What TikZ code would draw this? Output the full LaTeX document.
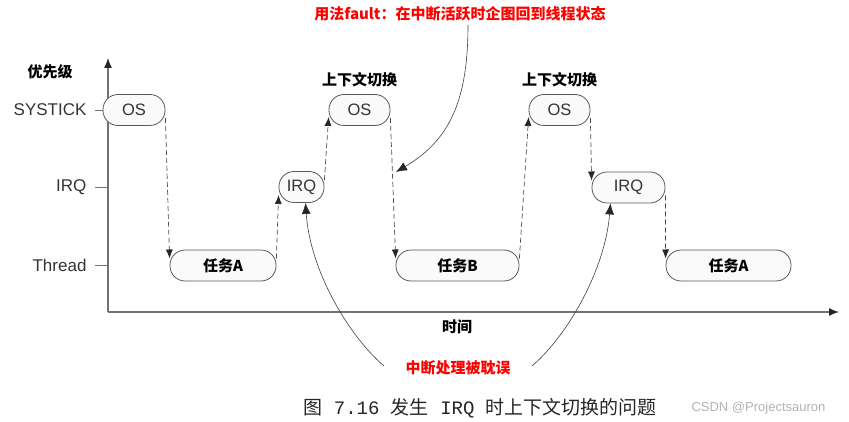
\documentclass[tikz,border=0pt]{standalone}
\usepackage{fontspec}
\setmainfont{Liberation Sans}
\newfontfamily\cjk{Noto Sans CJK SC}
\newfontfamily\mono{Liberation Mono}
\usetikzlibrary{arrows.meta}

\tikzset{
  box/.style={draw=black!65, fill=black!2, rounded corners=15pt, line width=0.8pt,
    minimum height=31pt, inner sep=0pt, text=black!80, font=\fontsize{16.5}{16.5}\selectfont},
  taskbox/.style={box, text=black, font=\cjk\bfseries\fontsize{15}{15}\selectfont},
  level/.style={text=black!80, font=\fontsize{17}{17}\selectfont},
  title/.style={text=black, font=\cjk\bfseries\fontsize{15}{15}\selectfont},
  remark/.style={text=red, font=\cjk\bfseries\fontsize{15}{15}\selectfont},
  axis/.style={draw=black!55, line width=1.3pt, -{Latex[length=10pt,width=8pt,color=black!85]}},
  tick/.style={draw=black!55, line width=0.9pt},
  switch/.style={draw=black!70, line width=0.7pt, dash pattern=on 5pt off 3pt,
    -{Latex[length=9pt,width=7pt,color=black!85]}},
  pointer/.style={draw=black!75, line width=0.6pt, -{Latex[length=11pt,width=9pt,color=black!85]}}
}

\begin{document}
\begin{tikzpicture}[x=1pt,y=-1pt]
\useasboundingbox (0,0) rectangle (849,422);
%
	% axes
	\coordinate (origin) at (108,312);
	\coordinate (ytop) at (108,58);
	\coordinate (xend) at (839,312);
	\draw[axis] (origin) -- (ytop);
	\draw[axis] (origin) -- (xend);
	\node[title] (prio) at (50,72) {优先级};
	\node[title] (time) at (457,327) {时间};
	\foreach \lvl/\yy in {SYSTICK/110,IRQ/187,Thread/265}{
		\draw[tick] (95,\yy) -- (108,\yy);
		\node[level, anchor=east] (lvl\yy) at (90,\yy) {\lvl};
	}
%
	% execution states
	\node[box, minimum width=62pt] (os1) at (134,110) {OS};
	\node[taskbox, minimum width=106pt] (taskA) at (223,265.5) {任务A};
	\node[box, minimum width=45pt] (irq1) at (301.5,187) {IRQ};
	\node[box, minimum width=61pt] (os2) at (359.5,110) {OS};
	\node[taskbox, minimum width=123pt] (taskB) at (457.5,265.5) {任务B};
	\node[box, minimum width=61pt] (os3) at (559.5,110) {OS};
	\node[box, minimum width=73pt] (irq2) at (628.5,187.5) {IRQ};
	\node[taskbox, minimum width=125pt] (taskAA) at (728.5,265.5) {任务A};
	\node[title] (ctx1) at (359.5,80) {上下文切换};
	\node[title] (ctx2) at (559.5,80) {上下文切换};
%
	% switches
	\draw[switch] ([yshift=-8pt]os1.east) -- ([yshift=7pt]taskA.west);
	\draw[switch] ([yshift=7pt]taskA.east) -- ([yshift=-8pt]irq1.west);
	\draw[switch] ([yshift=7pt]irq1.east) -- ([yshift=-7pt]os2.west);
	\draw[switch] ([yshift=-8pt]os2.east) -- ([yshift=7pt]taskB.west);
	\draw[switch] ([yshift=7pt]taskB.east) -- ([yshift=-7pt]os3.west);
	\draw[switch] ([yshift=-8pt]os3.east) -- ([yshift=7pt]irq2.west);
	\draw[switch] ([yshift=-8pt]irq2.east) -- ([yshift=7pt]taskAA.west);
%
	% remarks
	\node[remark] (fault) at (460,14) {用法fault：在中断活跃时企图回到线程状态};
	\coordinate (faulthit) at (396,172);
	\draw[pointer] ([xshift=8pt]fault.south) .. controls (468,100) and (450,140) .. (faulthit);
	\node[remark] (delay) at (458,368) {中断处理被耽误};
	\draw[pointer] ([xshift=-18pt,yshift=2pt]delay.west) .. controls (348,335) and (310,270) .. ([xshift=4pt]irq1.south);
	\draw[pointer] ([xshift=18pt,yshift=2pt]delay.east) .. controls (568,335) and (605,270) .. ([xshift=-18pt]irq2.south);
%
	% caption
	\node[anchor=west, text=black!85, font=\cjk\fontsize{19}{20}\selectfont] (caption) at (300,408)
		{图{\mono\ 7.16\ }发生{\mono\ IRQ\ }时上下文切换的问题};
	\node[anchor=west, text=black!30, font=\fontsize{13}{13}\selectfont] (mark) at (688,408) {CSDN @Projectsauron};
%
\end{tikzpicture}
\end{document}
